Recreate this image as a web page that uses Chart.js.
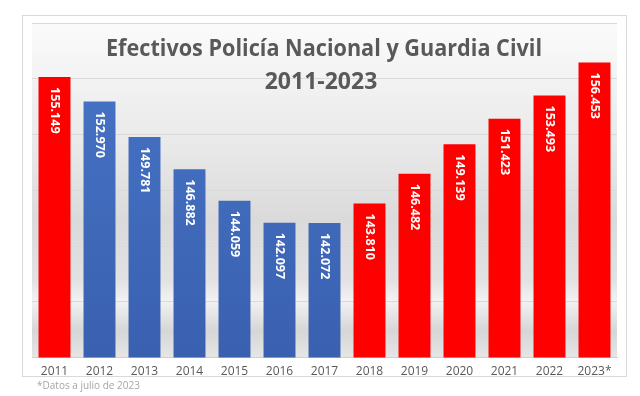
<!DOCTYPE html>
<html lang="es">
<head>
    <meta charset="UTF-8">
    <title>Efectivos Policía Nacional y Guardia Civil 2011-2023</title>
    <script src="https://cdn.jsdelivr.net/npm/chart.js"></script>
    <style>
        html, body { margin: 0; padding: 0; background: #ffffff; }
        #wrap { width: 640px; height: 396px; }
    </style>
</head>
<body>
    <div id="wrap"><canvas id="chart"></canvas></div>

    <script>
        // datos
        const years = ["2011", "2012", "2013", "2014", "2015", "2016", "2017", "2018", "2019", "2020", "2021", "2022", "2023*"];
        const efectivos = [155149, 152970, 149781, 146882, 144059, 142097, 142072, 143810, 146482, 149139, 151423, 153493, 156453];
        const titleLines = ["Efectivos Policía Nacional y Guardia Civil", "2011-2023"];
        const footnote = "*Datos a julio de 2023";

        const RED = '#ff0000';
        const blueYears = ["2012", "2013", "2014", "2015", "2016", "2017"];

        function fmt(v) {
            // separador de miles con punto
            return String(v).replace(/\B(?=(\d{3})+(?!\d))/g, '.');
        }

        function barColor(context) {
            const chart = context.chart;
            const area = chart.chartArea;
            if (!blueYears.includes(years[context.dataIndex])) return RED;
            if (!area) return '#4472c4';
            const g = chart.ctx.createLinearGradient(0, area.top, 0, area.bottom);
            g.addColorStop(0, '#4876c8');
            g.addColorStop(1, '#3a60b0');
            return g;
        }

        const decor = {
            id: 'decor',
            beforeDraw(chart) {
                const ctx = chart.ctx;
                const a = chart.chartArea;
                ctx.save();
                // marco
                ctx.strokeStyle = '#dadada';
                ctx.lineWidth = 1;
                ctx.strokeRect(22.5, 15.5, 604, 361);
                // fondo degradado
                const g = ctx.createLinearGradient(0, a.top, 0, a.bottom);
                g.addColorStop(0, '#fbfbfb');
                g.addColorStop(0.38, '#e8e8e8');
                g.addColorStop(0.59, '#dadada');
                g.addColorStop(0.77, '#e2e2e2');
                g.addColorStop(0.83, '#f2f2f2');
                g.addColorStop(0.92, '#d6d6d6');
                g.addColorStop(1, '#e6e6e6');
                ctx.fillStyle = g;
                ctx.fillRect(a.left, a.top, a.right - a.left, a.bottom - a.top);
                ctx.restore();
            },
            afterDatasetsDraw(chart) {
                const ctx = chart.ctx;
                const meta = chart.getDatasetMeta(0);
                ctx.save();
                // etiquetas giradas dentro de las barras
                ctx.fillStyle = '#ffffff';
                ctx.font = 'bold 12.5px "Open Sans"';
                ctx.textAlign = 'left';
                ctx.textBaseline = 'middle';
                meta.data.forEach((bar, i) => {
                    ctx.save();
                    ctx.translate(bar.x + 0.5, bar.y + 10);
                    ctx.rotate(Math.PI / 2);
                    ctx.fillText(fmt(efectivos[i]), 0, 0, 47);
                    ctx.restore();
                });
                // titulo
                ctx.fillStyle = '#595959';
                ctx.textAlign = 'center';
                ctx.textBaseline = 'alphabetic';
                ctx.font = 'bold 23px "Open Sans"';
                ctx.fillText(titleLines[0], 324, 56, 436);
                ctx.fillText(titleLines[1], 321, 89, 121);
                // nota
                ctx.fillStyle = '#a6a6a6';
                ctx.textAlign = 'left';
                ctx.font = '10px "Open Sans"';
                ctx.fillText(footnote, 37, 389, 103);
                ctx.restore();
            }
        };

        new Chart(document.getElementById('chart'), {
            type: 'bar',
            data: {
                labels: years,
                datasets: [{
                    data: efectivos,
                    backgroundColor: barColor,
                    borderWidth: 0,
                    barPercentage: 0.71,
                    categoryPercentage: 1
                }]
            },
            options: {
                responsive: true,
                maintainAspectRatio: false,
                animation: false,
                layout: { padding: { left: 32, right: 23, top: 23, bottom: 10 } },
                plugins: {
                    legend: { display: false },
                    tooltip: { enabled: false }
                },
                scales: {
                    x: {
                        grid: { display: false, drawTicks: false },
                        border: { color: '#d0d0d0' },
                        ticks: {
                            color: '#595959',
                            padding: 7,
                            font: { family: '"Open Sans"', size: 12 }
                        }
                    },
                    y: {
                        min: 130000,
                        max: 160000,
                        grid: { color: '#d9d9d9', drawTicks: false },
                        border: { display: false },
                        ticks: { display: false, stepSize: 5000 }
                    }
                }
            },
            plugins: [decor]
        });
    </script>
</body>
</html>
